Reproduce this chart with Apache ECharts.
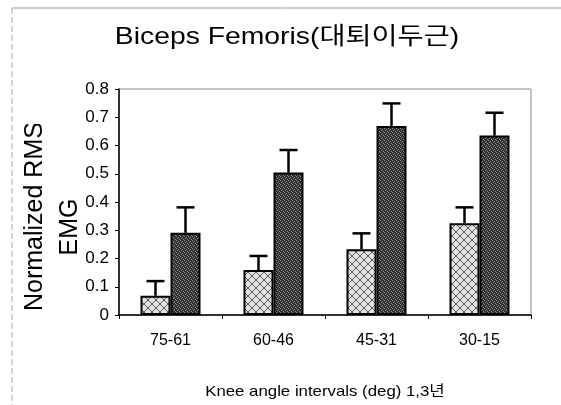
<!DOCTYPE html>
<html>
<head>
<meta charset="utf-8">
<script src="https://cdn.jsdelivr.net/npm/echarts@6/dist/echarts.min.js"></script>
<style>
  html, body { margin: 0; padding: 0; background: #fff; }
  #main { width: 561px; height: 405px; }
</style>
</head>
<body>
<div id="main"></div>
<script>
var categories = ['75-61', '60-46', '45-31', '30-15'];
var lightMean = [0.068, 0.159, 0.233, 0.325];
var lightTop = [0.12, 0.209, 0.289, 0.381];
var darkMean = [0.291, 0.504, 0.669, 0.635];
var darkTop = [0.381, 0.584, 0.749, 0.716];
var yTicks = [0, 0.1, 0.2, 0.3, 0.4, 0.5, 0.6, 0.7, 0.8];

var FONT = '"Liberation Sans", Arial, "Noto Sans CJK KR", sans-serif';
var BAR_W = 30;

// hatch textures
function makeLight() {
  var c = document.createElement('canvas');
  c.width = 8; c.height = 8;
  var g = c.getContext('2d');
  g.fillStyle = '#e2e2e2';
  g.fillRect(0, 0, 8, 8);
  g.strokeStyle = '#5a5a5a';
  g.lineWidth = 1;
  g.beginPath();
  g.moveTo(0, 0); g.lineTo(8, 8);
  g.moveTo(8, 0); g.lineTo(0, 8);
  g.stroke();
  return c;
}
function makeDark() {
  var c = document.createElement('canvas');
  c.width = 4; c.height = 4;
  var g = c.getContext('2d');
  g.fillStyle = '#2e2e2e';
  g.fillRect(0, 0, 4, 4);
  g.fillStyle = '#909090';
  g.fillRect(0, 0, 1, 1);
  g.fillRect(2, 1, 1, 1);
  g.fillRect(1, 2, 1, 1);
  g.fillRect(3, 3, 1, 1);
  return c;
}

function errData(mean, top) {
  return mean.map(function (m, i) { return [i, m, top[i]]; });
}

function errRender(offset) {
  return function (params, api) {
    var i = api.value(0);
    var p0 = api.coord([i, api.value(1)]);
    var p1 = api.coord([i, api.value(2)]);
    var x = p0[0] + offset;
    var style = { stroke: '#000', lineWidth: 2.5 };
    return {
      type: 'group',
      children: [
        { type: 'line', shape: { x1: x, y1: p0[1], x2: x, y2: p1[1] }, style: style },
        { type: 'line', shape: { x1: x - 9, y1: p1[1], x2: x + 9, y2: p1[1] }, style: style }
      ]
    };
  };
}

var chart = echarts.init(document.getElementById('main'));
var option = {
  backgroundColor: '#fff',
  animation: false,
  grid: {
    left: 119, right: 30, top: 89, bottom: 90,
    show: true, borderColor: '#8a8a8a', borderWidth: 1
  },
  xAxis: {
    type: 'category',
    data: categories,
    axisLine: { lineStyle: { color: '#000', width: 1.5 } },
    axisTick: { show: true, length: 4, lineStyle: { color: '#000' } },
    axisLabel: { color: '#000', fontSize: 16, fontFamily: FONT, margin: 18 }
  },
  yAxis: {
    type: 'value',
    min: 0, max: 0.8, interval: 0.1,
    axisLine: { show: true, lineStyle: { color: '#000', width: 1.5 } },
    axisTick: { show: true, length: 4, lineStyle: { color: '#000' } },
    splitLine: { show: false },
    axisLabel: {
      color: '#000', fontSize: 17, fontFamily: FONT, margin: 10,
      formatter: function (v) {
        var t = yTicks.find(function (y) { return Math.abs(y - v) < 1e-6; });
        return t === 0 ? '0' : t.toFixed(1);
      }
    }
  },
  graphic: [
    { type: 'line', shape: { x1: 12, y1: 8, x2: 561, y2: 8 }, style: { stroke: '#999', lineWidth: 1 } },
    { type: 'line', shape: { x1: 12, y1: 8, x2: 12, y2: 405 }, style: { stroke: '#aaa', lineWidth: 1, lineDash: [6, 3] } },
    {
      type: 'text', x: 287, y: 37, scaleX: 1.18,
      style: { text: 'Biceps Femoris(대퇴이두근)', fill: '#000', font: '24px ' + FONT, textAlign: 'center', textVerticalAlign: 'middle' }
    },
    {
      type: 'text', x: 325, y: 392, scaleX: 1.12,
      style: { text: 'Knee angle intervals (deg) 1,3년', fill: '#000', font: '15px ' + FONT, textAlign: 'center', textVerticalAlign: 'middle' }
    },
    {
      type: 'text', x: 35, y: 311, rotation: Math.PI / 2,
      style: { text: 'Normalized RMS', fill: '#000', font: '25px ' + FONT, textAlign: 'left', textVerticalAlign: 'middle' }
    },
    {
      type: 'rect', z: 100, shape: { x: 18, y: 80, width: 34, height: 44 }, style: { fill: '#fff' }
    },
    {
      type: 'text', x: 70, y: 227, rotation: Math.PI / 2,
      style: { text: 'EMG', fill: '#000', font: '25px ' + FONT, textAlign: 'center', textVerticalAlign: 'middle' }
    }
  ],
  series: [
    {
      type: 'bar', data: lightMean, barWidth: BAR_W, barGap: '0%',
      itemStyle: { color: { image: makeLight(), repeat: 'repeat' }, borderColor: '#000', borderWidth: 2 }
    },
    {
      type: 'bar', data: darkMean, barWidth: BAR_W, barGap: '0%',
      itemStyle: { color: { image: makeDark(), repeat: 'repeat' }, borderColor: '#000', borderWidth: 2 }
    },
    { type: 'custom', data: errData(lightMean, lightTop), renderItem: errRender(-BAR_W / 2), z: 1 },
    { type: 'custom', data: errData(darkMean, darkTop), renderItem: errRender(BAR_W / 2), z: 1 }
  ]
};
chart.setOption(option);
</script>
</body>
</html>
